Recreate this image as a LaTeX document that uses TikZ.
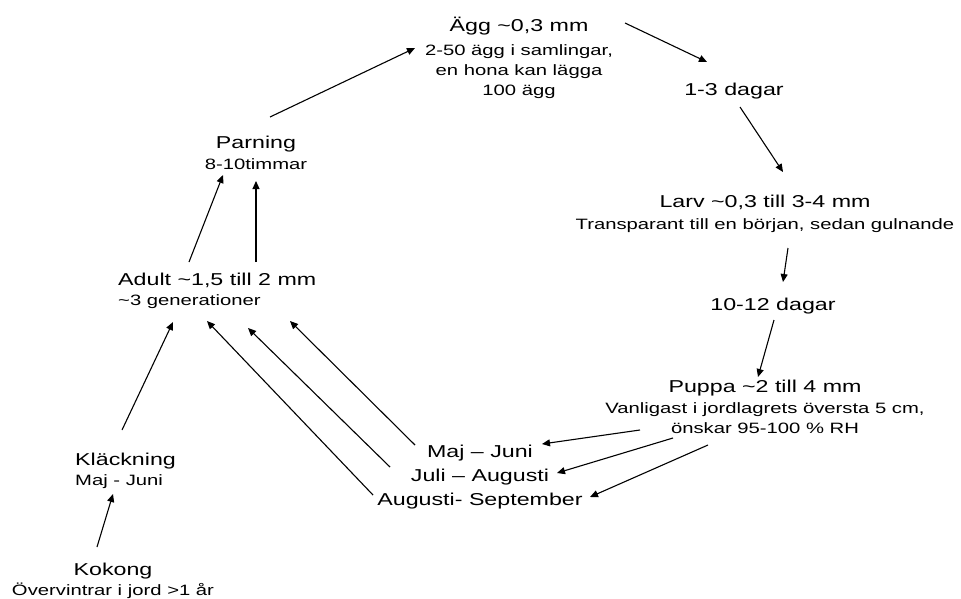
\documentclass[tikz,border=0pt]{standalone}
\usepackage{fontspec}
\setmainfont{Liberation Sans}[FakeStretch=1.35]
\usetikzlibrary{positioning,calc,arrows.meta}
\tikzset{
	x=1pt, y=-1pt,
	stage/.style = {inner sep=0pt, align=center, anchor=base,
		font=\fontsize{17.2}{20}\selectfont},
	leftstage/.style = {stage, align=left, anchor=base west},
	arr/.style = {-{Triangle[length=8pt,width=7pt]}, line width=1.1pt},
}
\newcommand{\sm}[1]{{\fontsize{15}{19.5}\selectfont #1}}

\begin{document}
\begin{tikzpicture}
	\useasboundingbox (0,0) rectangle (961,598);
	% stadier (base = sista radens baslinje)
	\node[stage] at (519,95) (egg) {Ägg \textasciitilde0,3 mm\\[4pt] \sm{2-50 ägg i samlingar,}\\ \sm{en hona kan lägga}\\ \sm{100 ägg}};
	\node[stage] at (734,95) (d13) {1-3 dagar};
	\node[stage] at (765,229) (larv) {Larv \textasciitilde0,3 till 3-4 mm\\[2pt] \sm{Transparant till en början, sedan gulnande}};
	\node[stage] at (773,310) (d1012) {10-12 dagar};
	\node[stage] at (765,433) (puppa) {Puppa \textasciitilde2 till 4 mm\\[1pt] \sm{Vanligast i jordlagrets översta 5 cm,}\\ \sm{önskar 95-100 \% RH}};
	\node[stage] at (480,457) (maj) {Maj – Juni};
	\node[stage] at (480,481) (juli) {Juli – Augusti};
	\node[stage] at (480,505) (aug) {Augusti- September};
	\node[leftstage] at (118,305) (adult) {Adult \textasciitilde1,5 till 2 mm\\ \sm{\textasciitilde3 generationer}};
	\node[stage] at (256,169) (parning) {Parning\\[1pt] \sm{8-10timmar}};
	\node[leftstage] at (75,485) (klack) {Kläckning\\ \sm{Maj - Juni}};
	\node[stage] at (113,595) (kokong) {Kokong\\ \sm{Övervintrar i jord >1 år}};
	% pilar
	\draw[arr] ($(parning.base)+(14,-52)$) -- ($(egg.base)+(-104,-47)$);
	\draw[arr] ($(egg.base)+(106,-72)$) -- ($(d13.base)+(-27,-33)$);
	\draw[arr] ($(d13.base)+(6,12)$) -- ($(larv.base)+(18,-57)$);
	\draw[arr] ($(larv.base)+(23,19)$) -- ($(d1012.base)+(10,-28)$);
	\draw[arr] ($(d1012.base)+(1,10)$) -- ($(puppa.base)+(-7,-56)$);
	\draw[arr] ($(puppa.base)+(-125,-3)$) -- ($(maj.base)+(62,-13)$);
	\draw[arr] ($(puppa.base)+(-92,5)$) -- ($(juli.base)+(77,-8)$);
	\draw[arr] ($(puppa.base)+(-57,12)$) -- ($(aug.base)+(110,-8)$);
	\draw[arr] ($(maj.base)+(-65,-12)$) -- ($(adult.base west)+(172,16)$);
	\draw[arr] ($(juli.base)+(-90,-14)$) -- ($(adult.base west)+(130,23)$);
	\draw[arr] ($(aug.base)+(-107,-10)$) -- ($(adult.base west)+(89,16)$);
	\draw[arr] ($(klack.base west)+(47,-55)$) -- ($(adult.base west)+(55,17)$);
	\draw[arr] ($(kokong.base)+(-16,-48)$) -- ($(klack.base west)+(38,9)$);
	\draw[arr] ($(adult.base west)+(71,-43)$) -- ($(parning.base)+(-33,6)$);
	\draw[arr] ($(adult.base west)+(138,-43)$) -- ($(parning.base)+(0,12)$);
\end{tikzpicture}
\end{document}
